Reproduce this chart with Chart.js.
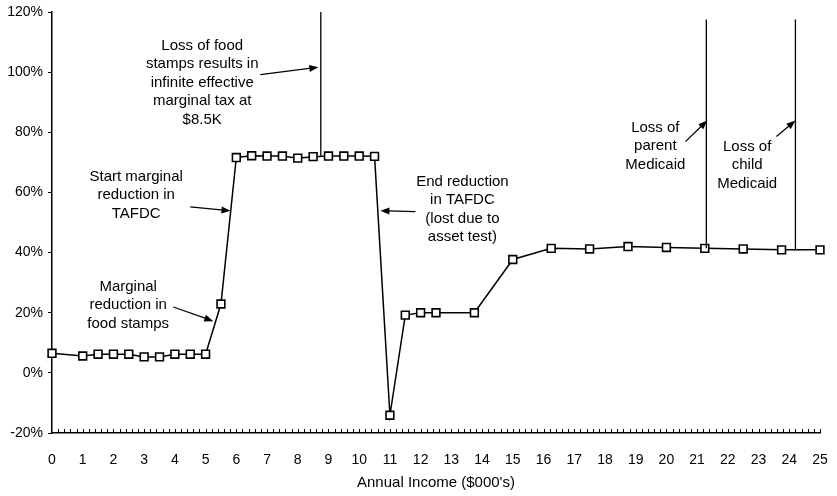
<!DOCTYPE html>
<html>
<head>
<meta charset="utf-8">
<script src="https://cdn.jsdelivr.net/npm/chart.js@4/dist/chart.umd.min.js"></script>
<style>
  html, body { margin: 0; padding: 0; background: #fff; }
  #wrap { width: 837px; height: 496px; }
</style>
</head>
<body>
<div id="wrap"><canvas id="c" width="837" height="496"></canvas></div>
<script>
// ---- data ----
const incomeK = [0, 1, 1.5, 2, 2.5, 3, 3.5, 4, 4.5, 5, 5.5, 6, 6.5, 7, 7.5, 8, 8.5, 9, 9.5, 10, 10.5, 11, 11.5, 12, 12.5, 13.75, 15, 16.25, 17.5, 18.75, 20, 21.25, 22.5, 23.75, 25];
const marginalRate = [6.5, 5.6, 6.2, 6.2, 6.2, 5.3, 5.3, 6.2, 6.2, 6.2, 22.9, 71.6, 72.2, 72.1, 72.1, 71.4, 71.9, 72.1, 72.1, 72.1, 72.0, -14.1, 19.2, 20.0, 20.0, 20.0, 37.7, 41.4, 41.2, 42.0, 41.7, 41.4, 41.2, 40.9, 40.9];
const foodStampSpikeX = [8.75, 8.75];
const foodStampSpikeY = [72.0, 120];
const parentMedicaidX = [21.3, 21.3];
const parentMedicaidY = [41.4, 117.5];
const childMedicaidX = [24.2, 24.2];
const childMedicaidY = [41.0, 117.5];
const xTickValues = [0,1,2,3,4,5,6,7,8,9,10,11,12,13,14,15,16,17,18,19,20,21,22,23,24,25];
const yTickValues = [-20, 0, 20, 40, 60, 80, 100, 120];

// annotations (text anchored in data units)
const notes = [
  { lines: ["Loss of food", "stamps results in", "infinite effective", "marginal tax at", "$8.5K"], x: 4.89, y: 108.9,
    arrow: [6.78, 99.2, 8.67, 101.6] },
  { lines: ["Start marginal", "reduction in", "TAFDC"], x: 2.74, y: 65.2,
    arrow: [4.5, 55.2, 5.81, 53.9] },
  { lines: ["Marginal", "reduction in", "food stamps"], x: 2.48, y: 28.6,
    arrow: [3.95, 21.9, 5.25, 17.2] },
  { lines: ["End reduction", "in TAFDC", "(lost due to", "asset test)"], x: 13.36, y: 63.6,
    arrow: [11.83, 53.6, 10.69, 53.9] },
  { lines: ["Loss of", "parent", "Medicaid"], x: 19.64, y: 81.6,
    arrow: [20.62, 76.9, 21.33, 83.9] },
  { lines: ["Loss of", "child", "Medicaid"], x: 22.63, y: 75.2,
    arrow: [23.58, 78.6, 24.2, 83.9] }
];

const FONT = '"Liberation Sans", Arial, sans-serif';
const pts = (xs, ys) => xs.map((x, i) => ({ x: x, y: ys[i] }));

const annotPlugin = {
  id: 'annot',
  afterDraw(chart) {
    const ctx = chart.ctx;
    const xs = chart.scales.x, ys = chart.scales.y;
    const area = chart.chartArea;
    ctx.save();
    // inner minor ticks on x axis
    ctx.strokeStyle = '#000';
    ctx.lineWidth = 1;
    for (let i = 1; i <= 125; i++) {
      const px = Math.round(xs.getPixelForValue(i * 0.2)) + 0.5;
      ctx.beginPath();
      ctx.moveTo(px, area.bottom);
      ctx.lineTo(px, area.bottom - 4);
      ctx.stroke();
    }
    // annotations
    ctx.fillStyle = '#000';
    ctx.font = '15px ' + FONT;
    ctx.textAlign = 'center';
    ctx.textBaseline = 'middle';
    notes.forEach(n => {
      const cx = xs.getPixelForValue(n.x);
      const cy = ys.getPixelForValue(n.y);
      n.lines.forEach((t, i) => ctx.fillText(t, cx, cy + i * 18.5));
      const [x1, y1, x2, y2] = n.arrow;
      const ax = xs.getPixelForValue(x1), ay = ys.getPixelForValue(y1);
      const bx = xs.getPixelForValue(x2), by = ys.getPixelForValue(y2);
      const ang = Math.atan2(by - ay, bx - ax);
      const hl = 9, hw = 3.5;
      ctx.lineWidth = 1.3;
      ctx.beginPath();
      ctx.moveTo(ax, ay);
      ctx.lineTo(bx - Math.cos(ang) * hl * 0.8, by - Math.sin(ang) * hl * 0.8);
      ctx.stroke();
      ctx.beginPath();
      ctx.moveTo(bx, by);
      ctx.lineTo(bx - Math.cos(ang) * hl - Math.sin(ang) * hw, by - Math.sin(ang) * hl + Math.cos(ang) * hw);
      ctx.lineTo(bx - Math.cos(ang) * hl + Math.sin(ang) * hw, by - Math.sin(ang) * hl - Math.cos(ang) * hw);
      ctx.closePath();
      ctx.fill();
    });
    ctx.restore();
  }
};

const spikeStyle = { borderColor: '#000', borderWidth: 1.3, pointRadius: 0, tension: 0, fill: false, clip: false };

new Chart(document.getElementById('c'), {
  type: 'line',
  data: {
    datasets: [
      Object.assign({ label: 'food', data: pts(foodStampSpikeX, foodStampSpikeY) }, spikeStyle),
      Object.assign({ label: 'parent', data: pts(parentMedicaidX, parentMedicaidY) }, spikeStyle),
      Object.assign({ label: 'child', data: pts(childMedicaidX, childMedicaidY) }, spikeStyle),
      {
        label: 'Marginal tax rate',
        data: pts(incomeK, marginalRate),
        borderColor: '#000',
        borderWidth: 1.5,
        tension: 0,
        pointStyle: 'rect',
        pointRadius: 5.5,
        pointBorderWidth: 1.6,
        pointBorderColor: '#000',
        pointBackgroundColor: '#fff',
        fill: false,
        clip: false
      }
    ]
  },
  options: {
    responsive: false,
    animation: false,
    events: [],
    layout: { padding: { top: 12, right: 17, left: 0, bottom: 4 } },
    plugins: { legend: { display: false }, tooltip: { enabled: false } },
    scales: {
      x: {
        type: 'linear',
        min: 0, max: 25,
        afterBuildTicks: s => { s.ticks = xTickValues.map(v => ({ value: v })); },
        ticks: { color: '#000', font: { family: FONT, size: 14 }, padding: 19, maxRotation: 0, autoSkip: false },
        grid: { drawOnChartArea: false, drawTicks: false },
        border: { display: true, color: '#000', width: 1.5 },
        title: { display: true, text: "Annual Income ($000's)", color: '#000', font: { family: FONT, size: 15 }, padding: { top: 2, bottom: 0 } },
        afterFit: s => { s.height = 59; s.paddingLeft = 0; s.paddingRight = 0; }
      },
      y: {
        min: -20, max: 120,
        afterBuildTicks: s => { s.ticks = yTickValues.map(v => ({ value: v })); },
        ticks: { color: '#000', font: { family: FONT, size: 14 }, padding: 5, callback: v => v + '%' },
        grid: { drawOnChartArea: false, drawTicks: true, tickLength: 4, color: '#000' },
        border: { display: true, color: '#000', width: 1.5 },
        afterFit: s => { s.width = 52; s.paddingTop = 0; s.paddingBottom = 0; }
      }
    }
  },
  plugins: [annotPlugin]
});
</script>
</body>
</html>
